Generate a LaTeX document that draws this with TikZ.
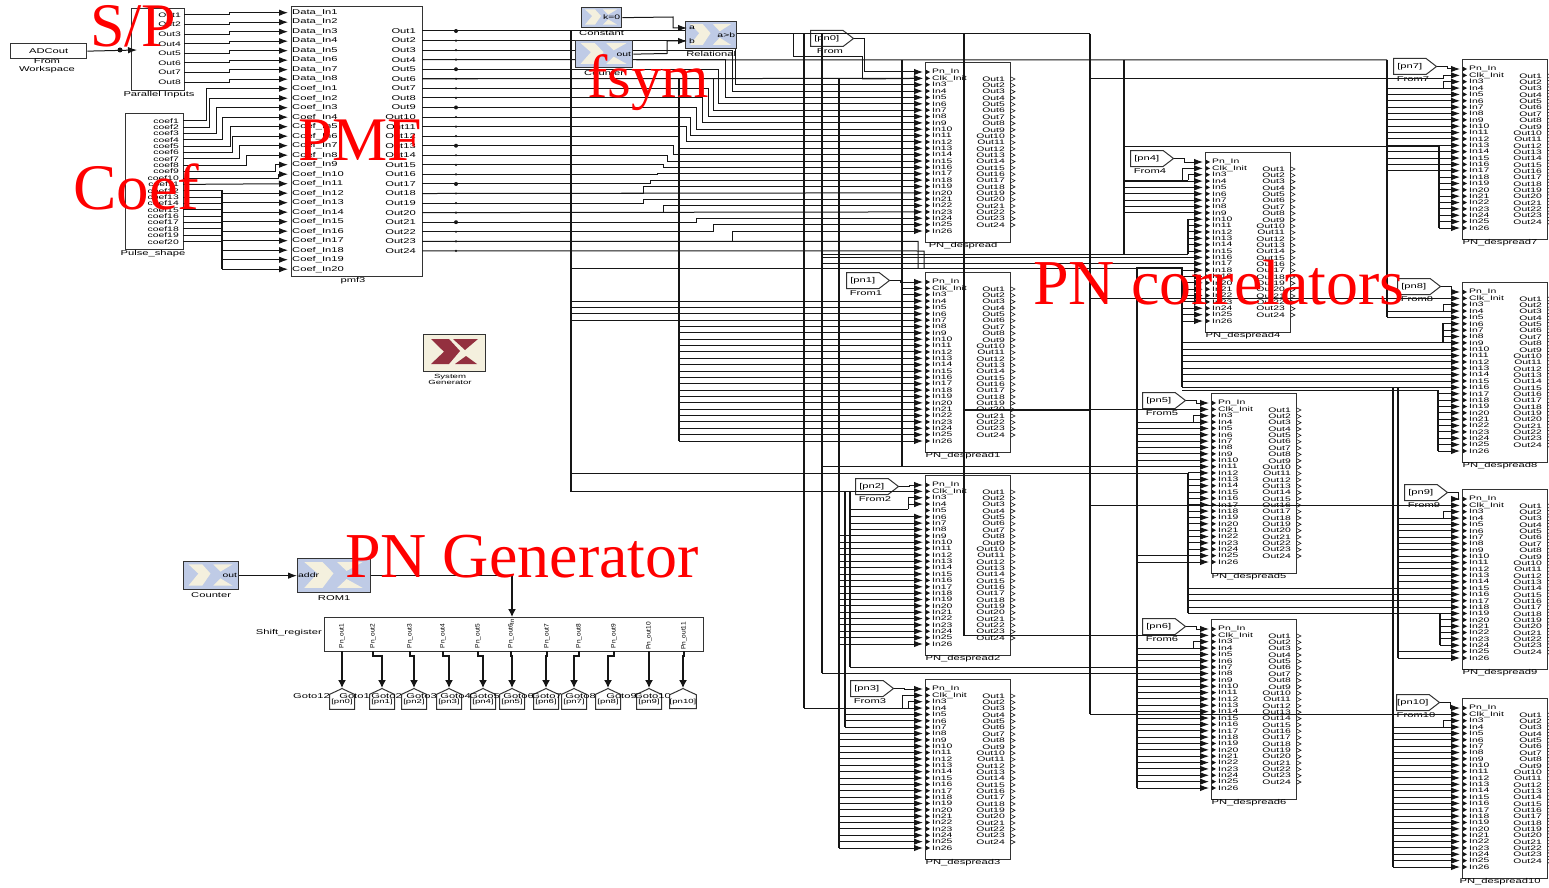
\documentclass[tikz,border=0pt]{standalone}
\usepackage{fontspec}
\setmainfont{Liberation Serif}
\setsansfont{Liberation Sans}
\newfontfamily\widesans[FakeStretch=1.6]{Liberation Sans}
\usetikzlibrary{arrows.meta,shapes.symbols}
\definecolor{ink}{HTML}{161616}
\definecolor{edge}{HTML}{333333}
\definecolor{xblue}{HTML}{BFCBE6}
\definecolor{cream}{HTML}{F4F0DE}
\definecolor{logored}{HTML}{93303F}
\definecolor{callout}{HTML}{FF0000}
\tikzset{
  wire/.style={draw=ink,line width=1pt},
  inwire/.style={wire,-{Latex[length=9pt,width=6.5pt]}},
  railline/.style={draw=ink,line width=1.3pt},
  bigwire/.style={draw=ink,line width=1.4pt,-{Latex[length=8pt,width=8pt]}},
  blockbox/.style={draw=edge,line width=1.3pt,inner sep=0pt,anchor=north west},
  pnbox/.style={blockbox,minimum width=85pt,minimum height=180pt},
  xbox/.style={blockbox,fill=xblue},
  portlabel/.style={inner sep=0pt,font=\widesans\fontsize{6.5}{7}\selectfont},
  pmflabel/.style={inner sep=0pt,font=\widesans\fontsize{7}{8}\selectfont},
  caption/.style={inner sep=0pt,align=center,font=\widesans\fontsize{7}{7.5}\selectfont},
  fromtag/.style={signal,signal to=east,signal pointer angle=75,draw=edge,line width=1pt,
    minimum width=43pt,minimum height=16pt,inner sep=0pt,anchor=north west,
    font=\widesans\fontsize{7}{7}\selectfont},
  gototag/.style={signal,signal to=north,signal pointer angle=130,draw=edge,line width=1pt,fill=white,
    minimum width=25pt,minimum height=20pt,inner sep=0pt,anchor=north,
    font=\widesans\fontsize{6}{7}\selectfont},
  bigtext/.style={inner sep=0pt,anchor=base west,text=callout}
}
% one PN_despread block with its ports
\newcommand{\despread}[4]{
  \node[pnbox] (#1) at (#2,#3) {};
  \node[caption] (#1cap) at (#2+38,#3+184) {#4};
  \foreach \i in {1,...,26}{
    \pgfmathsetmacro{\yy}{#3+10+6.36*(\i-1)}
    \coordinate (#1in\i) at (#2-2,\yy);
    \fill[ink] (#2+1,\yy-2.2) -- (#2+5,\yy) -- (#2+1,\yy+2.2) -- cycle;
    \node[portlabel,anchor=west] (#1il\i) at (#2+7,\yy)
      {\ifnum\i=1 Pn\_In\else\ifnum\i=2 Clk\_Init\else In\i\fi\fi};
  }
  \foreach \i in {1,...,24}{
    \pgfmathsetmacro{\yy}{#3+17+6.35*(\i-1)}
    \node[portlabel,anchor=east] (#1ol\i) at (#2+80,\yy) {Out\i};
    \draw[ink,line width=.6pt] (#2+86,\yy-2) -- (#2+90,\yy) -- (#2+86,\yy+2);
  }
}
\newcommand{\frompn}[5]{
  \node[fromtag] (#1) at (#2,#3) {[#4]\hspace{8pt}};
  \node[caption] (#1cap) at (#2+20,#3+21) {#5};
}
% blue Xilinx style block
\newcommand{\xblock}[7]{
  \node[xbox,minimum width=#5pt,minimum height=#6pt] (#1) at (#3,#4) {};
  \begin{scope}[shift={(#3,#4)},x=#5pt,y=-#6pt]
    \fill[cream] (.1,.12) -- (.35,.12) -- (.5,.45) -- (.35,.88) -- (.1,.88) -- (.28,.45) -- cycle;
    \fill[cream] (.55,.12) -- (.9,.12) -- (.68,.38) -- cycle;
    \fill[cream] (.68,.62) -- (.9,.88) -- (.55,.88) -- cycle;
  \end{scope}
  \node[portlabel,anchor=east] (#1lab) at ([xshift=-2pt]#1.east) {#7};
  \node[caption] (#1cap) at ([yshift=-4.5pt]#1.south) {#2};
}
\newcommand{\rows}[3]{\foreach \k in {#3}{\draw[inwire] (#1 |- #2in\k) -- (#2in\k);}}
\newcommand{\stubvia}[4]{\draw[inwire] (#1 |- #2in#4) -- (#1 |- #2in#3) -- (#2in#3);}
\newcommand{\railv}[3]{\draw[railline] (#1 |- #2) -- (#1 |- #3);}
\newcommand{\busrun}[3]{\draw[wire] (#1 |- #3) -- (#2 |- #3);}
\begin{document}
\begin{tikzpicture}[x=1pt,y=-1pt]
  \useasboundingbox (0,0) rectangle (1549,888);
  \foreach \x in {222,229,571,679,793,804,822,839,845,850,862,902,908,964,1090,1124,1137,1182,1188,1193,1387,1393,1398,1438,1439,1440,1443}{
    \coordinate (r\x) at (\x,0);
  }
  \foreach \y in {34,57,60,79,146,180,219,254,257,263,267,268,298,323,343,387,390,410,467,473,492,505,509,613,636,667,673,708,714}{
    \coordinate (l\y) at (0,\y);
  }
  % S/P, coefficients and matched filter
  \node[blockbox,minimum width=76pt,minimum height=15pt,font=\widesans\fontsize{7}{8}\selectfont] (wsp) at (10,43) {ADCout};
  \node[caption] (wspcap) at (47,66) {From\\Workspace};
  \node[blockbox,minimum width=53pt,minimum height=82pt] (par) at (131,8) {};
  \node[caption] (parcap) at (159,95) {Parallel Inputs};
  \coordinate (parin) at (137,50);
  \draw[inwire] (wsp.east) -- (parin);
  \fill[ink] (120,50) circle (2.5);
  \foreach \i in {1,...,8}{
    \pgfmathsetmacro{\yy}{15+9.6*(\i-1)}
    \coordinate (parout\i) at (184,\yy);
    \node[portlabel,anchor=east] (parl\i) at (181,\yy) {Out\i};
  }
  \node[blockbox,minimum width=58pt,minimum height=136pt] (pulse) at (125,113) {};
  \node[caption] (pulsecap) at (153,254) {Pulse\_shape};
  \foreach \i in {1,...,20}{
    \pgfmathsetmacro{\yy}{120.7+6.37*(\i-1)}
    \coordinate (pcoef\i) at (183,\yy);
    \node[portlabel,anchor=east] (pcl\i) at (179,\yy) {coef\i};
  }
  \node[blockbox,minimum width=131pt,minimum height=270pt] (pmf) at (291,6) {};
  \node[caption] (pmfcap) at (353,281) {pmf3};
  \foreach \i in {1,...,8}{
    \pgfmathsetmacro{\yy}{12.7+9.5*(\i-1)}
    \coordinate (pmfdata\i) at (288,\yy);
    \node[pmflabel,anchor=west] (pmfdl\i) at (292,\yy) {Data\_In\i};
    \draw[inwire] (parout\i) -- (r229 |- parout\i) |- (pmfdata\i);
  }
  \foreach \i in {1,...,20}{
    \pgfmathsetmacro{\yy}{88.7+9.5*(\i-1)}
    \coordinate (pmfcoef\i) at (288,\yy);
    \node[pmflabel,anchor=west] (pmfcl\i) at (292,\yy) {Coef\_In\i};
  }
  \foreach \i in {1,...,24}{
    \pgfmathsetmacro{\yy}{31+9.56*(\i-1)}
    \coordinate (pmfout\i) at (422,\yy);
    \node[pmflabel,anchor=east] (pmfol\i) at (416,\yy) {Out\i};
    \coordinate (pmfdot) at (456,\yy);
    \pgfmathsetmacro{\dotr}{mod(\i,4)==1 ? 2 : 1.2}
    \fill[ink] (pmfdot) circle (\dotr);
  }
  \foreach \k/\x in {1/206,2/209,3/216,4/222,5/230,6/232,7/239,8/246,9/275,10/278,12/222}{
    \coordinate (stair) at (\x,0);
    \draw[inwire] (pcoef\k) -- (stair |- pcoef\k) -- (stair |- pmfcoef\k) -- (pmfcoef\k);
  }
  \draw[inwire] (pcoef11) -- (pmfcoef11);
  \foreach \k in {13,...,20}{\draw[wire] (pcoef\k) -- (r222 |- pcoef\k);}
  \railv{r222}{pcoef12}{pmfcoef20}
  \foreach \k in {13,...,20}{\draw[inwire] (r222 |- pmfcoef\k) -- (pmfcoef\k);}
  % correlators
  \despread{pnd0}{925}{62}{PN\_despread}
  \despread{pnd1}{925}{272}{PN\_despread1}
  \despread{pnd2}{925}{475}{PN\_despread2}
  \despread{pnd3}{925}{679}{PN\_despread3}
  \despread{pnd4}{1205}{152}{PN\_despread4}
  \despread{pnd5}{1211}{393}{PN\_despread5}
  \despread{pnd6}{1211}{619}{PN\_despread6}
  \despread{pnd7}{1462}{59}{PN\_despread7}
  \despread{pnd8}{1462}{282}{PN\_despread8}
  \despread{pnd9}{1462}{489}{PN\_despread9}
  \despread{pnd10}{1462}{698}{PN\_despread10}
  \frompn{fr0}{810}{30}{pn0}{From}
  \frompn{fr1}{846}{272}{pn1}{From1}
  \frompn{fr2}{855}{478}{pn2}{From2}
  \frompn{fr3}{850}{680}{pn3}{From3}
  \frompn{fr4}{1130}{150}{pn4}{From4}
  \frompn{fr5}{1142}{392}{pn5}{From5}
  \frompn{fr6}{1142}{618}{pn6}{From6}
  \frompn{fr7}{1393}{58}{pn7}{From7}
  \frompn{fr8}{1397}{278}{pn8}{From8}
  \frompn{fr9}{1404}{484}{pn9}{From9}
  \frompn{fr10}{1396}{694}{pn10}{From10}
  \foreach \n in {0,...,10}{
    \draw[inwire] (fr\n.east) -- ++(10,0) |- (pnd\n in1);
  }
  % matched filter outputs into the first correlator
  \foreach \k/\x/\t in {2/735/3,3/732/4,4/725/5,5/718/6,6/713/7,7/708/8,8/702/9,9/696/10,10/690/11,11/686/12,
    12/679/13,13/673/14,14/667/15,15/663/16,16/657/17,17/650/18,18/643/19,19/643/21,20/663/22,21/696/24,22/713/25,23/732/26}{
    \coordinate (stair) at (\x,0);
    \draw[inwire] (pmfout\k) -- (stair |- pmfout\k) -- (stair |- pnd0in\t) -- (pnd0in\t);
  }
  \draw[inwire] (pmfout18) -- (pnd0in20);
  \draw[inwire] (pmfout20) -- (pnd0in23);
  \draw[inwire] (pmfout6) -- (pnd0in2);
  \draw[wire] (pmfout1) -- (685,31);
  \draw[wire] (pmfout4) -- (r1387 |- l60);
  \draw[wire] (pmfout23) -- (918,241.3) -- (918,268);
  \draw[wire] (pmfout24) -- (924,251) -- (924,268);
  % long nets
  \draw[wire] (736,34) -- (r1090 |- l34);
  \railv{r571}{pmfout1}{l492}
  \railv{r679}{l79}{pnd1in26}
  \draw[wire] (r793 |- l34) -- (r793 |- l57) -- (r862 |- l57) -- (r862 |- l79);
  \railv{r804}{l34}{l708}
  \railv{r822}{l34}{l673}
  \railv{r839}{l79}{pnd3in26}
  \railv{r845}{l492}{pnd3in7}
  \railv{r850}{l492}{l667}
  \railv{r902}{l60}{l467}
  \railv{r964}{l34}{l636}
  \railv{r1090}{l34}{l714}
  \railv{r1124}{l60}{l254}
  \railv{r1137}{l267}{pnd6in26}
  \railv{r1182}{l267}{l387}
  \railv{r1188}{l473}{l613}
  \railv{r1188}{l219}{l254}
  \railv{r1387}{l60}{pnd8in5}
  \railv{r1393}{l387}{pnd10in26}
  \railv{r1398}{l387}{pnd9in26}
  \railv{r1439}{l146}{pnd7in26}
  \railv{r1438}{l390}{pnd8in26}
  \railv{r1440}{l613}{pnd9in24}
  \railv{r1443}{l323}{l343}
  \busrun{r822}{r1188}{l254}
  \busrun{r1124}{r1439}{l146}
  \busrun{r1182}{r1398}{l387}
  \busrun{r571}{r1182}{l268}
  \busrun{r1137}{r1182}{l267}
  \busrun{r1182}{r1438}{l390}
  \draw[inwire] (r822 |- pnd4in16) -- (pnd4in16);
  \draw[inwire] (r822 |- pnd4in17) -- (pnd4in17);
  % In2 and In3 of the blocks
  \draw[inwire] (r862 |- l79) -- (pnd0in2);
  \rows{r902}{pnd1}{2,3}
  \rows{r571}{pnd1}{4,5,6,7}
  \rows{r679}{pnd1}{8,...,26}
  \rows{r571}{pnd2}{2}
  \draw[wire] (r850 |- l509) -- (r908 |- l509);
  \draw[inwire] (r908 |- l509) -- (r908 |- pnd2in3) -- (pnd2in3);
  \rows{r908}{pnd2}{4}
  \rows{r850}{pnd2}{6,7,8}
  \rows{r839}{pnd2}{9,...,26}
  \draw[wire] (r804 |- l708) -- (r908 |- l708);
  \stubvia{r902}{pnd3}{2}{4}
  \stubvia{r908}{pnd3}{3}{4}
  \rows{r908}{pnd3}{4}
  \rows{r845}{pnd3}{5,6,7}
  \rows{r839}{pnd3}{8,...,26}
  \draw[wire] (r1124 |- l180) -- (r1188 |- l180);
  \draw[inwire] (r1182 |- l180) -- (r1182 |- pnd4in2) -- (pnd4in2);
  \draw[inwire] (r1188 |- l180) -- (r1188 |- pnd4in3) -- (pnd4in3);
  \rows{r1124}{pnd4}{4,...,9}
  \rows{r1188}{pnd4}{10,...,15}
  \rows{r1182}{pnd4}{18,...,26}
  \draw[wire] (r1090 |- l410) -- (r964 |- l410);
  \draw[inwire] (r964 |- pnd5in2) -- (pnd5in2);
  \stubvia{r1193}{pnd5}{3}{4}
  \rows{r1137}{pnd5}{4,...,10}
  \draw[inwire] (r822 |- pnd5in11) -- (pnd5in11);
  \draw[wire] (r571 |- l473) -- (r1188 |- l473);
  \rows{r1188}{pnd5}{12,...,24}
  \rows{r1137}{pnd5}{25,26}
  \draw[inwire] (r964 |- pnd6in2) -- (pnd6in2);
  \stubvia{r1193}{pnd6}{3}{4}
  \rows{r1137}{pnd6}{4,5,6,9,10,11,12,13,14,15,16,17,18,19,20,21,22,23,24,25,26}
  \draw[inwire] (r850 |- pnd6in7) -- (pnd6in7);
  \draw[inwire] (r822 |- pnd6in8) -- (pnd6in8);
  \draw[inwire] (r1090 |- l79) -- (r1443 |- l79) -- (r1443 |- pnd7in2) -- (pnd7in2);
  \stubvia{r1443}{pnd7}{3}{4}
  \rows{r1387}{pnd7}{4,...,17}
  \rows{r1439}{pnd7}{18,...,26}
  \draw[inwire] (r1090 |- pnd8in2) -- (pnd8in2);
  \stubvia{r1443}{pnd8}{3}{4}
  \rows{r1387}{pnd8}{4,5}
  \rows{r1443}{pnd8}{6,7,8}
  \rows{r1182}{pnd8}{9,...,16}
  \rows{r1438}{pnd8}{17,...,26}
  \draw[inwire] (r1090 |- pnd9in2) -- (pnd9in2);
  \stubvia{r1443}{pnd9}{3}{4}
  \rows{r1398}{pnd9}{4,...,14}
  \rows{r1188}{pnd9}{15,...,19}
  \rows{r1440}{pnd9}{20,...,24}
  \rows{r1398}{pnd9}{25,26}
  \draw[inwire] (r1090 |- pnd10in2) -- (pnd10in2);
  \stubvia{r1443}{pnd10}{3}{4}
  \rows{r1393}{pnd10}{4,...,26}
  % threshold compare
  \xblock{rel}{Relational}{685}{21}{51}{27}{a>b}
  \node[portlabel] (rela) at (692,28) {a};
  \node[portlabel] (relb) at (692,41) {b};
  \xblock{konst}{Constant}{581}{7}{40}{20}{k=0}
  \xblock{ctr}{Counter}{575}{40}{57}{27}{out}
  \coordinate (relina) at (687,28);
  \coordinate (relinb) at (687,41);
  \draw[inwire] (konst.east) -- (673,17) |- (relina);
  \draw[inwire] (ctr.east) -- (667,53.5) |- (relinb);
  % system generator
  \node[blockbox,fill=cream,minimum width=62pt,minimum height=37pt] (sysgen) at (423,334) {};
  \fill[logored] (431,339) -- (449,339) -- (460,351) -- (449,364) -- (431,364) -- (444,351.7) -- cycle;
  \fill[logored] (453,339) -- (478,339) -- (465,350) -- cycle;
  \fill[logored] (466,356) -- (477,364) -- (455,364) -- cycle;
  \node[caption,font=\widesans\fontsize{6}{6}\selectfont] (sysgencap) at (450,379) {System\\Generator};
  % PN generator
  \xblock{ctrb}{Counter}{183}{561}{55}{28}{out}
  \xblock{rom}{ROM1}{297}{558}{73}{34}{}
  \node[portlabel,anchor=west] (romaddr) at ([xshift=1pt]rom.west) {addr};
  \draw[inwire] (ctrb.east) -- (rom.west);
  \node[blockbox,minimum width=379pt,minimum height=34pt] (sreg) at (324,617) {};
  \node[caption,anchor=east] (sregcap) at (322,633) {Shift\_register};
  \coordinate (sregin) at (512,617);
  \draw[bigwire] (rom.east) -- (sregin |- rom.east) -- (sregin);
  \node[inner sep=0pt,rotate=90,font=\sffamily\fontsize{6}{6}\selectfont] (sreginl) at (512,622) {In};
  \foreach \n/\o/\g/\t/\c in {1/342/342/pn0/12,2/373/382/pn1/1,3/410/414/pn2/2,4/443/449/pn3/3,5/478/483/pn4/4,6/511/512/pn5/5,
    7/547/546/pn6/6,8/579/574/pn7/7,9/614/608/pn8/8,10/649/649/pn9/9,11/684/683/pn10/10}{
    \coordinate (srego\n) at (\o,651);
    \node[inner sep=0pt,rotate=90,font=\sffamily\fontsize{6.5}{7}\selectfont] (sregl\n) at (\o,636) {Pn\_out\n};
    \node[caption,anchor=east] (gtcap\n) at (\g-12,696) {Goto\c};
    \node[gototag] (gt\n) at (\g,688) {[\t]};
    \draw[bigwire] (srego\n) -- ++(0,5) -| (gt\n.north);
  }
  % callouts
  \node[bigtext,font=\fontsize{62}{62}\selectfont] (calsp) at (90,47) {S/P};
  \node[bigtext,font=\fontsize{62}{62}\selectfont] (calpmf) at (298,160) {PMF};
  \node[bigtext,font=\fontsize{65}{65}\selectfont] (calcoef) at (73,209) {Coef};
  \node[bigtext,font=\fontsize{61}{61}\selectfont] (calfsym) at (587,98) {fsym};
  \node[bigtext,font=\fontsize{64}{64}\selectfont] (calgen) at (345,577) {PN Generator};
  \node[bigtext,font=\fontsize{64}{64}\selectfont] (calcorr) at (1033,304) {PN correlators};
\end{tikzpicture}
\end{document}
